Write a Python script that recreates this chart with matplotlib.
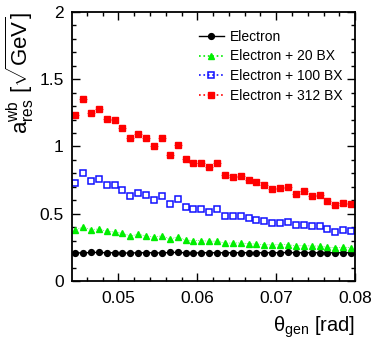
import numpy as np
import matplotlib
matplotlib.use('Agg')
import matplotlib.pyplot as plt
from matplotlib.ticker import MultipleLocator
from matplotlib.lines import Line2D

plt.rcParams['font.family'] = ['Liberation Sans', 'DejaVu Sans']
plt.rcParams['mathtext.fontset'] = 'custom'
plt.rcParams['mathtext.rm'] = 'Liberation Sans'
plt.rcParams['mathtext.it'] = 'Liberation Sans:italic'

# bin centres in theta_gen [rad]
theta = np.arange(36) * 0.001 + 0.0445

electron = [0.21, 0.208, 0.212, 0.212, 0.21, 0.21, 0.208, 0.208, 0.21, 0.21, 0.21, 0.208,
            0.212, 0.212, 0.21, 0.208, 0.21, 0.21, 0.21, 0.21, 0.21, 0.21, 0.21, 0.21,
            0.21, 0.21, 0.21, 0.212, 0.21, 0.21, 0.21, 0.21, 0.21, 0.21, 0.21, 0.21]
bx20 = [0.377, 0.401, 0.382, 0.387, 0.369, 0.364, 0.354, 0.335, 0.347, 0.335, 0.325, 0.337,
        0.312, 0.327, 0.305, 0.300, 0.300, 0.295, 0.297, 0.280, 0.283, 0.283, 0.277, 0.275,
        0.270, 0.268, 0.270, 0.270, 0.262, 0.262, 0.260, 0.260, 0.250, 0.248, 0.250, 0.248]
bx100 = [0.731, 0.801, 0.741, 0.761, 0.714, 0.711, 0.677, 0.634, 0.654, 0.637, 0.605, 0.634,
         0.570, 0.607, 0.552, 0.535, 0.533, 0.516, 0.533, 0.483, 0.481, 0.481, 0.471, 0.454,
         0.444, 0.429, 0.434, 0.436, 0.414, 0.419, 0.407, 0.407, 0.384, 0.364, 0.377, 0.372]
bx312 = [1.236, 1.353, 1.247, 1.279, 1.204, 1.197, 1.138, 1.066, 1.095, 1.063, 1.004, 1.063,
         0.939, 1.009, 0.910, 0.880, 0.877, 0.845, 0.875, 0.786, 0.776, 0.781, 0.753, 0.734,
         0.711, 0.681, 0.691, 0.696, 0.644, 0.667, 0.632, 0.639, 0.595, 0.563, 0.578, 0.572]

fig = plt.figure(figsize=(3.71, 3.41), dpi=100)
ax = fig.add_axes([0.194, 0.176, 0.763, 0.789])

green = '#00ee00'
blue = '#1010ff'

ax.plot(theta, electron, ls='-', color='black', marker='o', ms=4.2, lw=1.0)
ax.plot(theta, bx20, ls=':', color=green, marker='^', ms=4.5, lw=0.5)
ax.plot(theta, bx100, ls='none', color=blue, marker='s', ms=5, mfc='none', mew=1.1)
ax.errorbar(theta, bx312, xerr=0.0005, fmt='none', ecolor='red', elinewidth=0.5)
ax.plot(theta, bx312, ls='none', color='red', marker='s', ms=5)

handles = [
    Line2D([], [], color='black', ls='-', marker='o', ms=4.2, lw=1.0),
    Line2D([], [], color=green, ls=':', marker='^', ms=4.5, lw=1.2),
    Line2D([], [], color=blue, ls=':', marker='s', ms=5, mfc='none', mew=1.1, lw=1.2),
    Line2D([], [], color='red', ls=':', marker='s', ms=5, lw=1.2),
]
labels = ['Electron', 'Electron + 20 BX', 'Electron + 100 BX', 'Electron + 312 BX']

ax.set_xlim(0.0441, 0.08)
ax.set_ylim(0, 2)
ax.xaxis.set_minor_locator(MultipleLocator(0.002))
ax.yaxis.set_minor_locator(MultipleLocator(0.1))
ax.set_xticks([0.05, 0.06, 0.07, 0.08])
ax.set_xticklabels(['0.05', '0.06', '0.07', '0.08'])
ax.set_yticks([0, 0.5, 1, 1.5, 2])
ax.set_yticklabels(['0', '0.5', '1', '1.5', '2'])
ax.tick_params(which='both', direction='in', top=True, right=True, labelsize=12.5, width=1.0)
ax.tick_params(axis='x', which='major', length=6, pad=7)
ax.tick_params(axis='y', which='major', length=6, pad=6)
ax.tick_params(which='minor', length=3)
for s in ax.spines.values():
    s.set_linewidth(1.3)

ax.set_xlabel(r'θ$_{\mathregular{gen}}$ [rad]', fontsize=14.5, loc='right', labelpad=6)
ax.set_ylabel(r'a$^{\mathregular{wb}}_{\mathregular{res}}$ [$\sqrt{\mathregular{GeV}}$]',
              fontsize=16, loc='top')
ax.yaxis.set_label_coords(-0.128, 1.0)

ax.legend(handles, labels, loc='upper right', frameon=False, fontsize=10, handlelength=1.8,
          handletextpad=0.45, labelspacing=0.42, borderaxespad=0.0,
          bbox_to_anchor=(0.975, 0.955))

fig.savefig('out.png', dpi=100)
